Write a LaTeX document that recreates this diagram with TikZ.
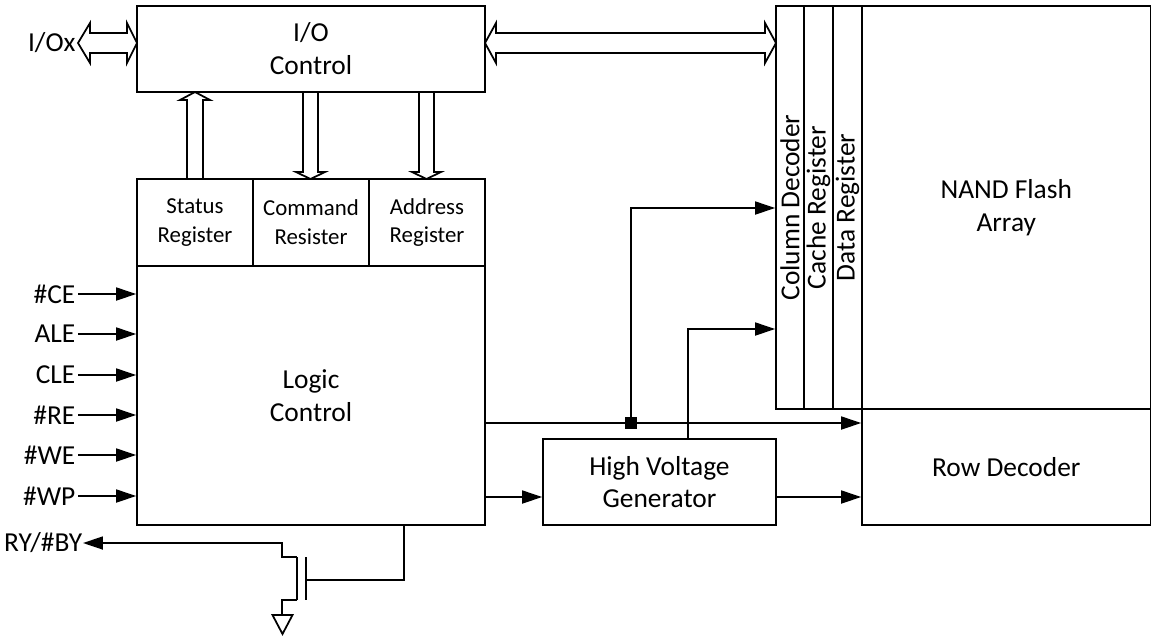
\documentclass[tikz,border=0pt]{standalone}
\usepackage{fontspec}
\setmainfont{Carlito}
\usepackage{tikz}
\usetikzlibrary{arrows.meta}

\begin{document}
\begin{tikzpicture}[x=0.02cm, y=-0.02cm, line width=1pt,
    box/.style={draw, inner sep=0pt, align=center, font=\fontsize{15.6}{18.7}\selectfont},
    regbox/.style={box, minimum width=2.32cm, minimum height=1.74cm, font=\fontsize{13}{16.4}\selectfont},
    strip/.style={box, minimum width=0.57cm, minimum height=8.06cm},
    arr/.style={-{Triangle[length=0.4cm, width=0.26cm]}},
    pin/.style={anchor=east, inner sep=1pt, font=\fontsize{15.6}{18.7}\selectfont}]
  \useasboundingbox (0,0) rectangle (1152,637);
  % blocks
  \node[box, minimum width=6.96cm, minimum height=1.72cm] (io) at (311,49) {I/O\\Control};
  \node[regbox] (status) at (195,222.5) {Status\\Register};
  \node[regbox] (command) at (311,222.5) {Command\\Resister};
  \node[regbox] (address) at (427,222.5) {Address\\Register};
  \node[box, minimum width=6.96cm, minimum height=5.18cm] (logic) at (311,395.5) {Logic\\Control};
  \node[box, minimum width=4.66cm, minimum height=1.72cm] (hv) at (659.5,482) {High Voltage\\Generator};
  \node[strip, minimum width=0.56cm] (coldec) at (790,207.5) {};
  \node[strip] (cache) at (818.5,207.5) {};
  \node[strip] (data) at (847.5,207.5) {};
  \node[box, minimum width=5.77cm, minimum height=8.06cm] (nand) at (1006.25,207.5) {NAND Flash\\Array};
  \node[box, minimum width=5.77cm, minimum height=2.32cm] (rowdec) at (1006.25,467) {Row Decoder};
  \node[rotate=90, font=\fontsize{15.6}{18.7}\selectfont] (coldeclbl) at (coldec.center) {Column Decoder};
  \node[rotate=90, font=\fontsize{15.6}{18.7}\selectfont] (cachelbl) at (cache.center) {Cache Register};
  \node[rotate=90, font=\fontsize{15.6}{18.7}\selectfont] (datalbl) at (data.center) {Data Register};

  % buses
  \node[pin] (iox) at (78,43) {I/Ox};
  \draw (78,43) -- (90,23) -- (90,33) -- (127,33) -- (127,23) -- (137,43) -- (127,63) -- (127,53) -- (90,53) -- (90,63) -- cycle;
  \draw (485,43) -- (496,23) -- (496,33) -- (765,33) -- (765,23) -- (776,43) -- (765,63) -- (765,53) -- (496,53) -- (496,63) -- cycle;
  \draw (187,179) -- (187,100) -- (180,100) -- (195,92) -- (210,100) -- (203,100) -- (203,179);
  \draw (303,92) -- (303,172) -- (296,172) -- (310.5,179) -- (325,172) -- (318,172) -- (318,92);
  \draw (419,92) -- (419,172) -- (412,172) -- (426.5,179) -- (441,172) -- (434,172) -- (434,92);

  % control inputs
  \node[pin] (ce) at (78,294) {\#CE};
  \node[pin] (ale) at (78,334) {ALE};
  \node[pin] (cle) at (78,375) {CLE};
  \node[pin] (re) at (78,415) {\#RE};
  \node[pin] (we) at (78,455) {\#WE};
  \node[pin] (wp) at (78,496) {\#WP};
  \draw[arr] (ce.east) -- (ce.east -| logic.west);
  \draw[arr] (ale.east) -- (ale.east -| logic.west);
  \draw[arr] (cle.east) -- (cle.east -| logic.west);
  \draw[arr] (re.east) -- (re.east -| logic.west);
  \draw[arr] (we.east) -- (we.east -| logic.west);
  \draw[arr] (wp.east) -- (wp.east -| logic.west);

  % logic and high voltage lines
  \node[fill, minimum size=0.24cm, inner sep=0pt] (j) at (631,423) {};
  \coordinate (cd1) at (coldec.west |- 0,208);
  \coordinate (cd2) at (coldec.west |- 0,329);
  \draw[arr] (logic.east |- j) -- (j -| rowdec.west);
  \draw[arr] (j.center) |- (cd1);
  \draw[arr] (hv.north -| 688,0) |- (cd2);
  \draw[arr] (logic.east |- 0,497) -- (hv.west |- 0,497);
  \draw[arr] (hv.east |- 0,497) -- (rowdec.west |- 0,497);

  % ready/busy output
  \node[pin, inner sep=0pt] (ry) at (83,543) {RY/\#BY};
  \draw (logic.south -| 404,0) -- (404,580) -- (306,580);
  \draw (306,557) -- (306,600);
  \draw (297,557) -- (297,600);
  \draw[arr] (297,557) -- (282,557) -- (282,543) -- (ry.east);
  \draw (297,600) -- (282,600) -- (282,615);
  \draw (272.5,615) -- (292.5,615) -- (282.5,634) -- cycle;
\end{tikzpicture}
\end{document}
